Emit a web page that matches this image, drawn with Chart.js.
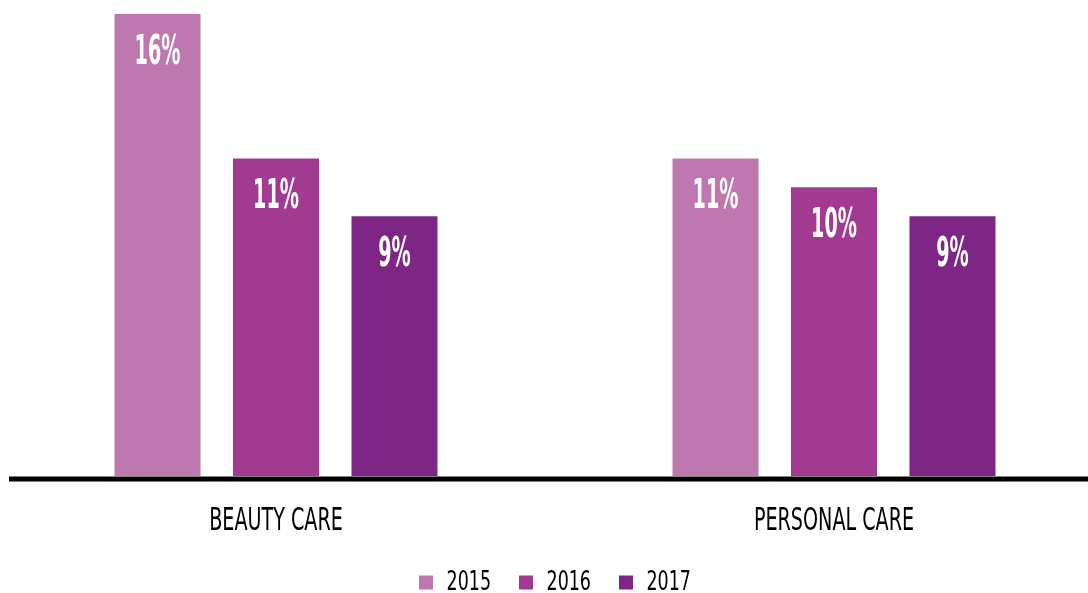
<!DOCTYPE html>
<html>
<head>
<meta charset="utf-8">
<script src="https://cdn.jsdelivr.net/npm/chart.js@4/dist/chart.umd.min.js"></script>
<style>
  html, body { margin: 0; padding: 0; background: #ffffff; overflow: hidden; width: 1088px; height: 593px; }
  #wrap { position: absolute; left: -3px; top: 0; width: 1116px; height: 606px; }
</style>
</head>
<body>
<div id="wrap"><canvas id="c"></canvas></div>
<script>
const categories = ["BEAUTY CARE", "PERSONAL CARE"];
const seriesNames = ["2015", "2016", "2017"];
const values2015 = [16, 11];
const values2016 = [11, 10];
const values2017 = [9, 9];
const colors = ["#BF77AF", "#A23A92", "#7D2686"];

const FONT = '"DejaVu Sans Condensed", "DejaVu Sans", sans-serif';

// horizontal compression per font size, to imitate the condensed display face
const SCALE_BY_SIZE = { 32: 0.665, 27: 0.72, 41: 0.52 };
function sxFor(font) {
  const m = /(\d+(?:\.\d+)?)px/.exec(font);
  const s = m ? Math.round(parseFloat(m[1])) : 0;
  return SCALE_BY_SIZE[s] || 1;
}

const condense = {
  id: "condense",
  beforeInit(chart) {
    const ctx = chart.ctx;
    const origFill = ctx.fillText.bind(ctx);
    const origMeasure = ctx.measureText.bind(ctx);
    ctx.fillText = function (t, x, y) {
      const sx = sxFor(ctx.font);
      if (sx === 1) return origFill(t, x, y);
      ctx.save();
      ctx.translate(x, y);
      ctx.scale(sx, 1);
      origFill(t, 0, 0);
      ctx.restore();
    };
    ctx.measureText = function (t) {
      const m = origMeasure(t);
      const sx = sxFor(ctx.font);
      if (sx === 1) return m;
      return {
        width: m.width * sx,
        actualBoundingBoxAscent: m.actualBoundingBoxAscent,
        actualBoundingBoxDescent: m.actualBoundingBoxDescent,
        actualBoundingBoxLeft: m.actualBoundingBoxLeft * sx,
        actualBoundingBoxRight: m.actualBoundingBoxRight * sx
      };
    };
  }
};

const valueLabels = {
  id: "valueLabels",
  afterDatasetsDraw(chart) {
    const ctx = chart.ctx;
    ctx.save();
    ctx.fillStyle = "#ffffff";
    ctx.textAlign = "center";
    ctx.textBaseline = "alphabetic";
    ctx.font = "bold 41px " + FONT;
    chart.data.datasets.forEach((ds, i) => {
      const meta = chart.getDatasetMeta(i);
      meta.data.forEach((bar, j) => {
        ctx.fillText(ds.data[j] + "%", bar.x, bar.y + 50);
      });
    });
    ctx.restore();
  }
};

const axisLine = {
  id: "axisLine",
  afterDraw(chart) {
    const ctx = chart.ctx;
    const y = chart.scales.y.getPixelForValue(0);
    ctx.save();
    ctx.strokeStyle = "#000000";
    ctx.lineWidth = 5;
    ctx.beginPath();
    ctx.moveTo(12, y + 3);
    ctx.lineTo(chart.width, y + 3);
    ctx.stroke();
    ctx.restore();
  }
};

new Chart(document.getElementById("c"), {
  type: "bar",
  data: {
    labels: categories,
    datasets: [
      { label: seriesNames[0], data: values2015, backgroundColor: colors[0], borderWidth: 0 },
      { label: seriesNames[1], data: values2016, backgroundColor: colors[1], borderWidth: 0 },
      { label: seriesNames[2], data: values2017, backgroundColor: colors[2], borderWidth: 0 }
    ]
  },
  options: {
    responsive: true,
    maintainAspectRatio: false,
    animation: false,
    categoryPercentage: 0.637,
    barPercentage: 0.726,
    layout: { padding: { top: 14, left: 0, right: 0, bottom: 0 } },
    scales: {
      x: {
        grid: { display: false, drawTicks: false },
        border: { display: false },
        ticks: { color: "#000000", font: { family: FONT, size: 32, lineHeight: 1.1 }, padding: 28 },
        afterFit(scale) { scale.height = 65; }
      },
      y: {
        display: false,
        min: 0,
        max: 16
      }
    },
    plugins: {
      legend: {
        position: "bottom",
        labels: {
          color: "#000000",
          boxWidth: 14,
          boxHeight: 14,
          padding: 28,
          font: { family: FONT, size: 27 }
        }
      },
      tooltip: { enabled: false }
    }
  },
  plugins: [condense, valueLabels, axisLine]
});
</script>
</body>
</html>
